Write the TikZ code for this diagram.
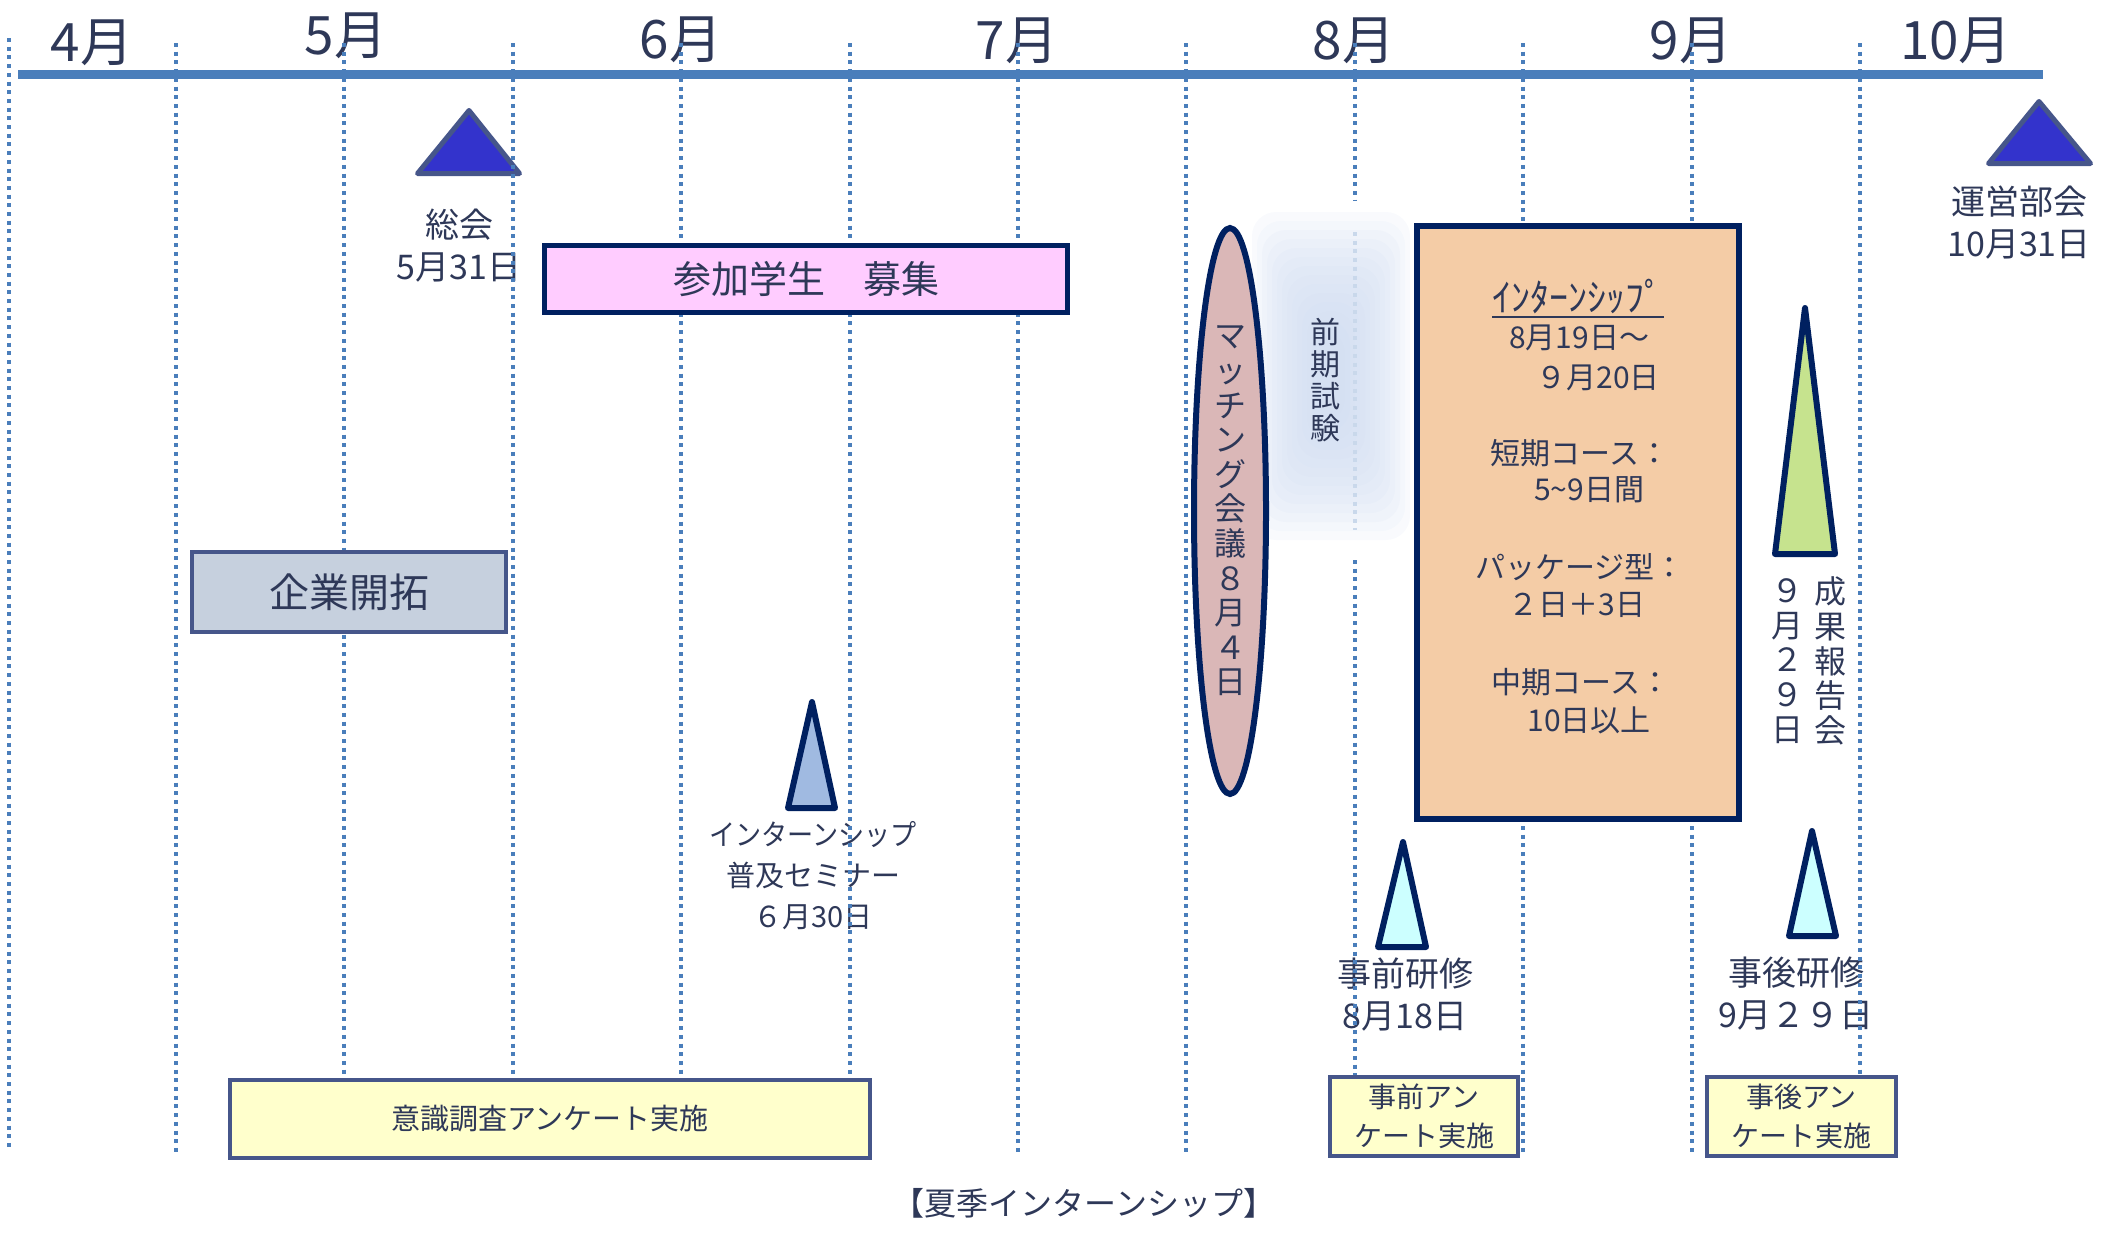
\documentclass[tikz,border=0pt]{standalone}
\usepackage{fontspec}
\setmainfont{Noto Sans CJK JP}
\usetikzlibrary{shapes.geometric}
\definecolor{cLine}{RGB}{74,126,187}
\definecolor{cTxt}{RGB}{46,56,88}
\definecolor{cNavy}{RGB}{0,32,96}
\definecolor{cGNavy}{RGB}{70,86,138}
\definecolor{cTriB}{RGB}{51,51,204}
\definecolor{cPink}{RGB}{255,204,255}
\definecolor{cOr}{RGB}{244,204,166}
\definecolor{cEll}{RGB}{218,183,183}
\definecolor{cSem}{RGB}{160,186,225}
\definecolor{cCy}{RGB}{204,255,255}
\definecolor{cGr}{RGB}{198,227,142}
\definecolor{cKig}{RGB}{198,208,222}
\definecolor{cYel}{RGB}{255,255,204}
\definecolor{cGlow}{RGB}{205,218,240}
\begin{document}
\begin{tikzpicture}[x=0.5pt,y=-0.5pt,
  mon/.style={font=\fontsize{26.5}{30}\selectfont, text=cTxt, inner sep=0},
  lbl/.style={font=\fontsize{17}{21}\selectfont, text=cTxt, inner sep=0, align=center},
  lbls/.style={font=\fontsize{14.5}{20.5}\selectfont, text=cTxt, inner sep=0, align=center},
  ib/.style={font=\fontsize{15}{18}\selectfont, text=cTxt, inner sep=0},
  vt/.style={text=cTxt, inner sep=0, align=center},
  dotline/.style={draw=cLine, line width=2pt, dash pattern=on 2pt off 2.35pt},
  faintline/.style={draw=cLine!30, line width=2pt, dash pattern=on 2pt off 2.35pt},
  gbox/.style={rectangle, draw=cGNavy, line width=2pt, inner sep=0, text=cTxt},
  nbox/.style={rectangle, draw=cNavy, line width=2.75pt, inner sep=0, text=cTxt},
  tribig/.style={draw=cGNavy, fill=cTriB, line width=2.5pt, line join=round},
  trism/.style={draw=cNavy, line width=3pt, line join=round},
  glowlayer/.style={fill=cGlow, fill opacity=0.12, rounded corners=12pt}]
\useasboundingbox (0,0) rectangle (2112,1232);
% soft glow behind exam text
\foreach \i in {0,...,13} {\fill[glowlayer] ({1252+5*\i},{212+9*\i}) rectangle ({1410-5*\i},{540-9*\i});}
% month labels
\node[mon] (m4) at (92,43) {4月};
\node[mon] (m5) at (346,36) {5月};
\node[mon] (m6) at (681,40) {6月};
\node[mon] (m7) at (1017,41) {7月};
\node[mon] (m8) at (1354,41) {8月};
\node[mon] (m9) at (1691,41) {9月};
\node[mon] (m10) at (1956,41) {10月};
% event labels
\node[lbl] (soukai) at (459,246) {総会\\5月31日};
\node[lbl] (unei) at (2019,222.5) {運営部会\\10月31日};
\node[lbls] (semi) at (813,876) {\scalebox{0.9}[1]{インターンシップ}\\普及セミナー\\６月30日};
\node[lbl] (jizen) at (1405,994) {事前研修\\8月18日};
\node[lbl] (jigo) at (1796,994) {事後研修\\9月２９日};
\node[vt, font=\fontsize{16}{17.4}\selectfont] (seika) at (1830,661) {成\\果\\報\\告\\会};
\node[vt, font=\fontsize{16}{17.4}\selectfont] (seikad) at (1787,661) {９\\月\\２\\９\\日};
\node[vt, font=\fontsize{15}{16}\selectfont] (exam) at (1325,380) {前\\期\\試\\験};
% triangles
\draw[tribig] (469,110.5) -- (519.5,173.5) -- (417.5,173.5) -- cycle;
\draw[tribig] (2039,101.5) -- (2090.5,163.5) -- (1988.5,163.5) -- cycle;
\draw[trism, fill=cSem] (812,702) -- (835,808) -- (788,808) -- cycle;
\draw[trism, fill=cCy] (1403,842) -- (1426,947) -- (1378,947) -- cycle;
\draw[trism, fill=cCy] (1812,831) -- (1836,936) -- (1789,936) -- cycle;
\draw[trism, fill=cGr] (1805,308) -- (1835,554) -- (1775,554) -- cycle;
% dotted month grid
\draw[dotline] (9,38) -- (9,1148);
\foreach \k in {1,...,7,9,10,11} {\draw[dotline] ({7.6+168.4*\k},43) -- ({7.6+168.4*\k},1152);}
\draw[dotline] (1354.8,43) -- (1354.8,200);
\draw[faintline] (1354.8,232) -- (1354.8,530);
\draw[dotline] (1354.8,560) -- (1354.8,1152);
% timeline bar
\draw[cLine, line width=4.5pt] (18,74.5) -- (2043,74.5);
% boxes
\node[gbox, fill=cKig, minimum width=157pt, minimum height=40pt, font=\fontsize{20}{24}\selectfont] (kigyo) at (349,592) {企業開拓};
\node[nbox, fill=cPink, minimum width=261.5pt, minimum height=33.5pt, font=\fontsize{19}{23}\selectfont] (bosyu) at (806,279) {参加学生　募集};
\node[nbox, line width=3pt, fill=cOr, minimum width=161pt, minimum height=296.5pt] (intern) at (1578,522.5) {};
\node[gbox, fill=cYel, minimum width=320pt, minimum height=39pt, font=\fontsize{14.5}{17}\selectfont] (ishiki) at (550,1119) {意識調査アンケート実施};
\node[gbox, fill=cYel, minimum width=94pt, minimum height=39.5pt, align=center, font=\fontsize{14}{19.5}\selectfont] (jzq) at (1424,1116.5) {事前アン\\ケート実施};
\node[gbox, fill=cYel, minimum width=94.5pt, minimum height=39.5pt, align=center, font=\fontsize{14}{19.5}\selectfont] (jgq) at (1801.5,1116.5) {事後アン\\ケート実施};
% matching ellipse
\node[ellipse, draw=cNavy, line width=3pt, fill=cEll, minimum width=36pt, minimum height=283pt, inner sep=0, align=center, text=cTxt, font=\fontsize{16}{17.3}\selectfont] (match) at (1230,511) {マ\\ッ\\チ\\ン\\グ\\会\\議\\８\\月\\４\\日};
% internship box text
\node[font=\fontsize{19}{22}\selectfont, text=cTxt, inner sep=0] (ttl) at (1578,297) {ｲﾝﾀｰﾝｼｯﾌﾟ};
\draw[cTxt, line width=1pt] ([yshift=-1pt]ttl.south west) -- ([yshift=-1pt]ttl.south east);
\node[ib] (d1) at (1579,338) {8月19日～};
\node[ib] (d2) at (1598,378) {９月20日};
\node[ib] (c1) at (1580,453) {短期コース：};
\node[ib] (c1b) at (1589,490) {5\textasciitilde9日間};
\node[ib] (c2) at (1580,567) {パッケージ型：};
\node[ib] (c2b) at (1577,605) {２日＋3日};
\node[ib] (c3) at (1581,682) {中期コース：};
\node[ib] (c3b) at (1589,720) {10日以上};
% caption
\node[font=\fontsize{16}{19}\selectfont, text=cTxt, inner sep=0] (cap) at (1084,1203) {【夏季インターンシップ】};
\end{tikzpicture}
\end{document}
